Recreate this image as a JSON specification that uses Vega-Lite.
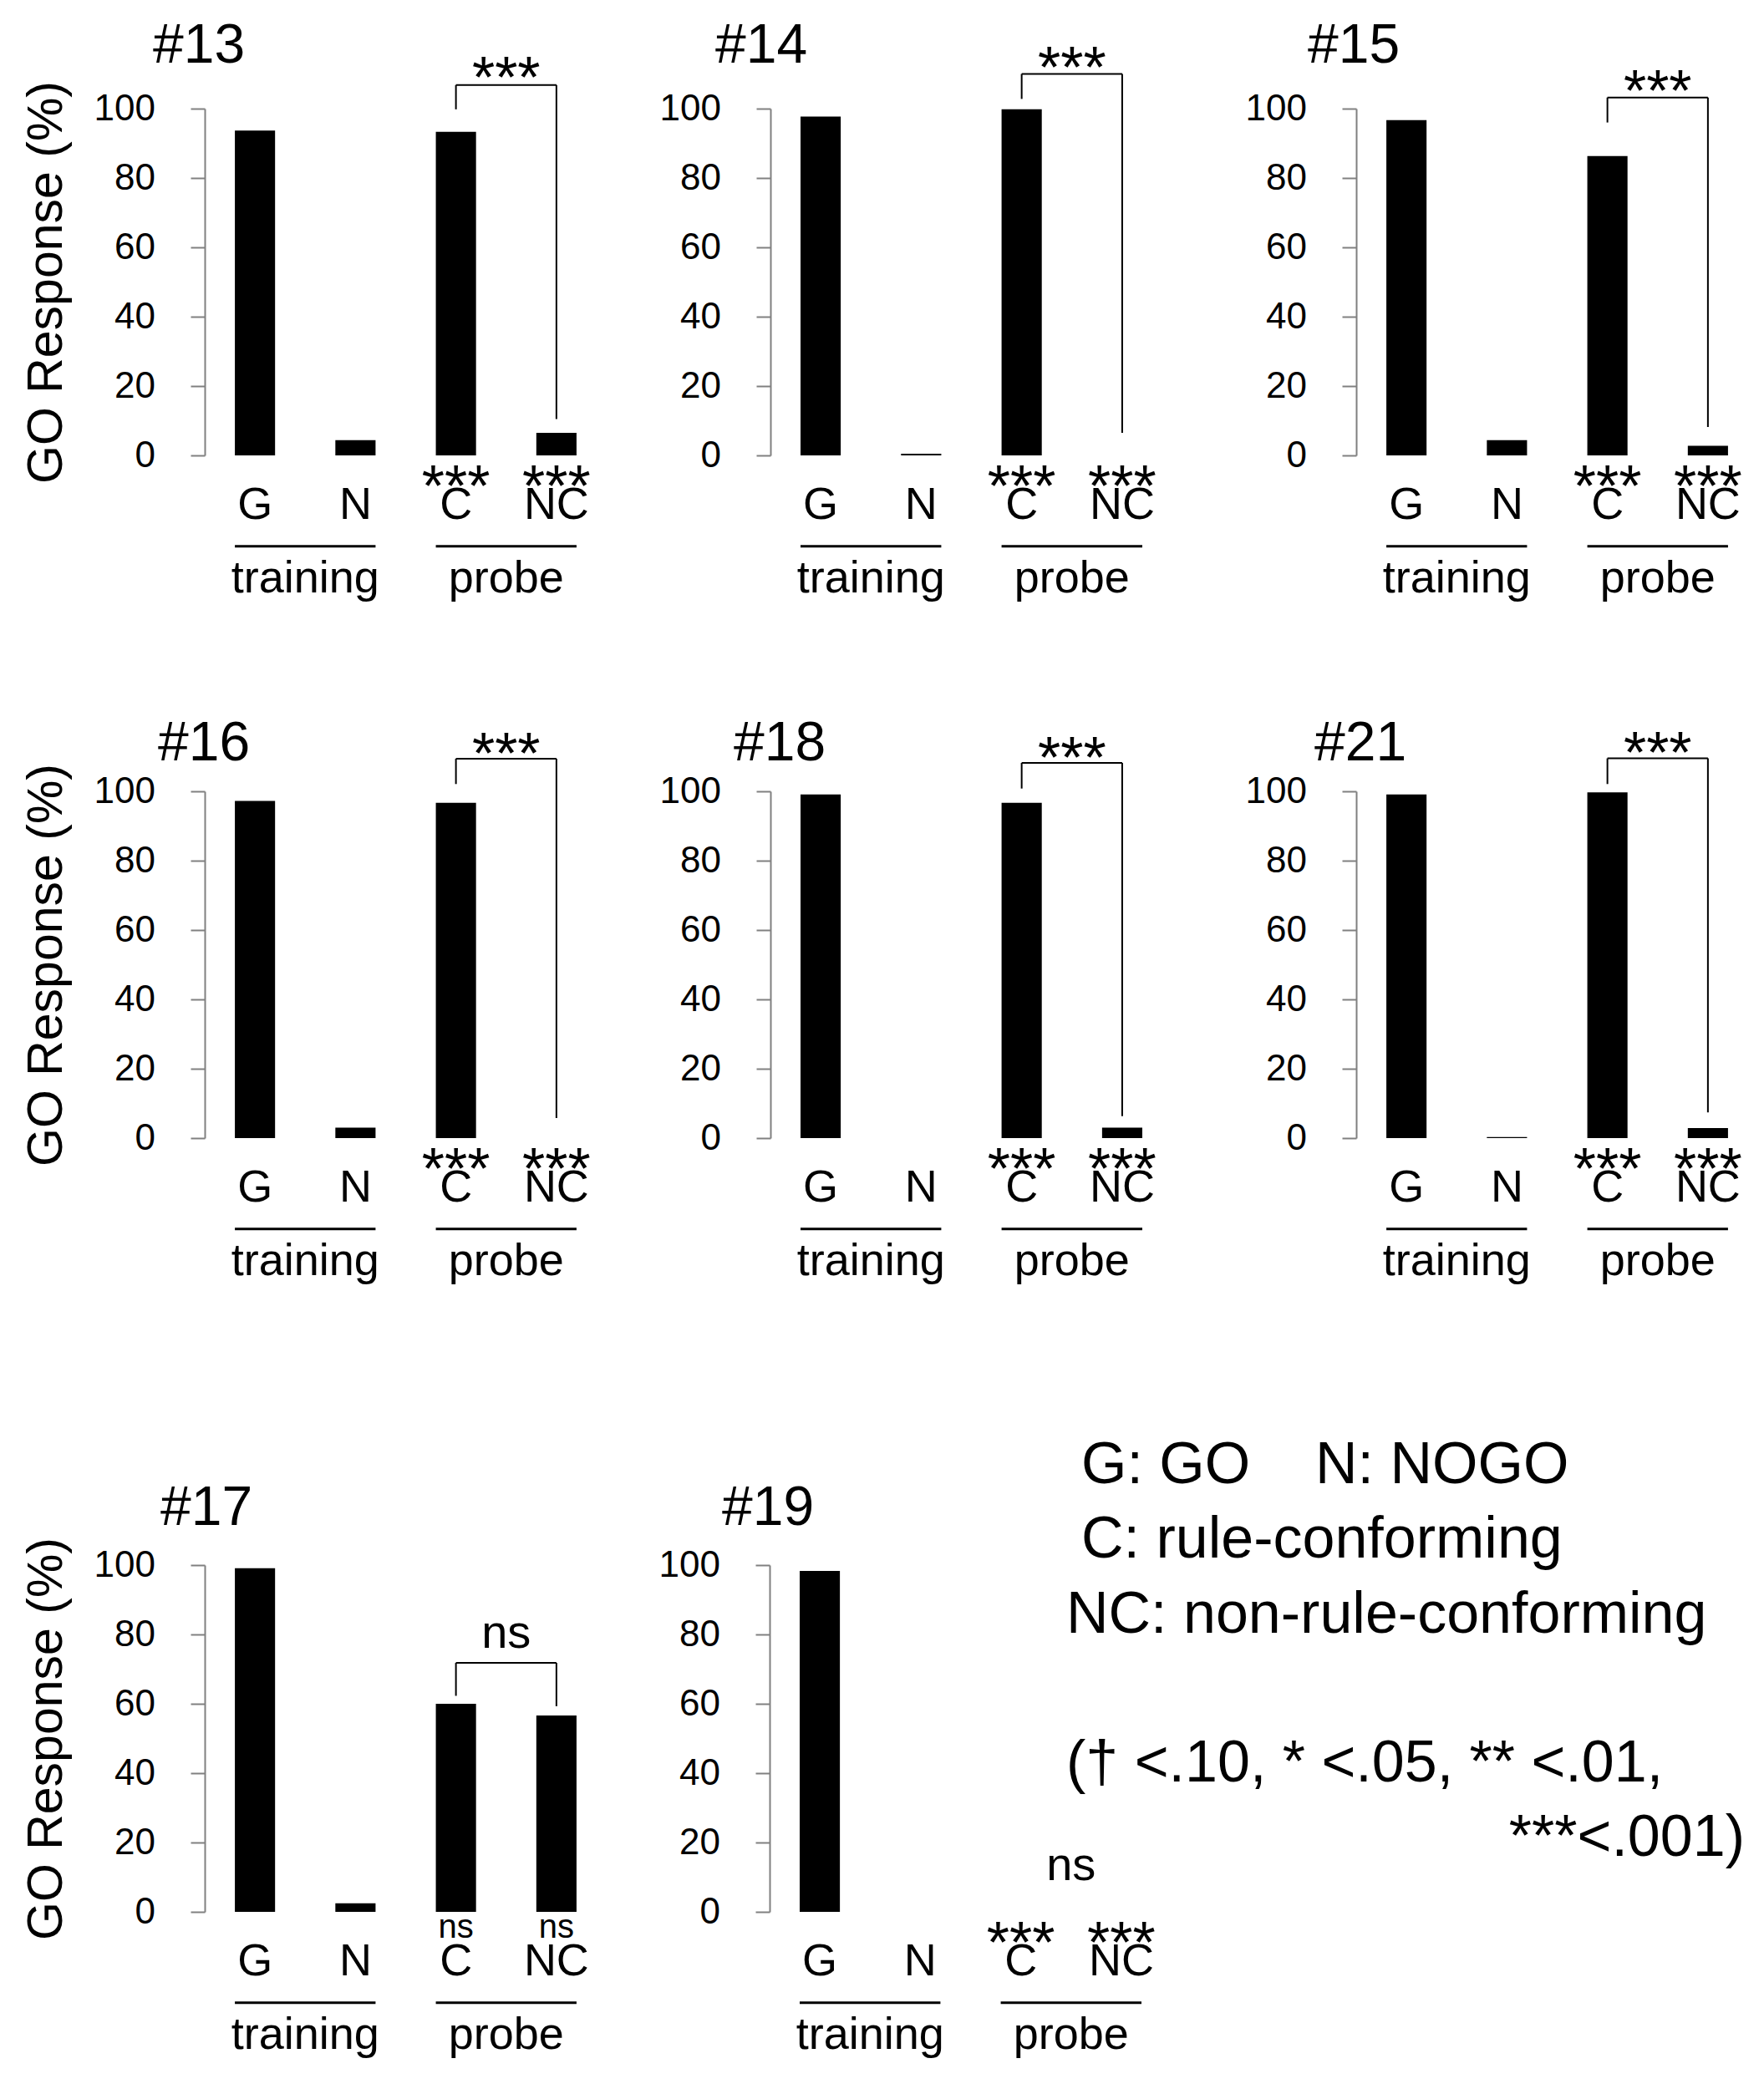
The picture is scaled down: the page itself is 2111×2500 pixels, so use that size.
{
  "$schema": "https://vega.github.io/schema/vega-lite/v6.json",
  "description": "GO response (%) per subject for training (G, N) and probe (C, NC) trials.",
  "background": "white",
  "padding": {"left": 26, "top": 21, "right": 5, "bottom": 5},
  "datasets": {
    "bars": [
      {"panel": "#13", "cond": "G", "value": 93.7, "sig": ""},
      {"panel": "#13", "cond": "N", "value": 4.4, "sig": ""},
      {"panel": "#13", "cond": "C", "value": 93.3, "sig": "***"},
      {"panel": "#13", "cond": "NC", "value": 6.5, "sig": "***"},
      {"panel": "#14", "cond": "G", "value": 97.7, "sig": ""},
      {"panel": "#14", "cond": "N", "value": 0.5, "sig": ""},
      {"panel": "#14", "cond": "C", "value": 99.8, "sig": "***"},
      {"panel": "#14", "cond": "NC", "value": 0, "sig": "***"},
      {"panel": "#15", "cond": "G", "value": 96.7, "sig": ""},
      {"panel": "#15", "cond": "N", "value": 4.4, "sig": ""},
      {"panel": "#15", "cond": "C", "value": 86.3, "sig": "***"},
      {"panel": "#15", "cond": "NC", "value": 2.8, "sig": "***"},
      {"panel": "#16", "cond": "G", "value": 97.2, "sig": ""},
      {"panel": "#16", "cond": "N", "value": 3.0, "sig": ""},
      {"panel": "#16", "cond": "C", "value": 96.7, "sig": "***"},
      {"panel": "#16", "cond": "NC", "value": 0, "sig": "***"},
      {"panel": "#18", "cond": "G", "value": 99.1, "sig": ""},
      {"panel": "#18", "cond": "N", "value": 0, "sig": ""},
      {"panel": "#18", "cond": "C", "value": 96.7, "sig": "***"},
      {"panel": "#18", "cond": "NC", "value": 3.0, "sig": "***"},
      {"panel": "#21", "cond": "G", "value": 99.1, "sig": ""},
      {"panel": "#21", "cond": "N", "value": 0.3, "sig": ""},
      {"panel": "#21", "cond": "C", "value": 99.7, "sig": "***"},
      {"panel": "#21", "cond": "NC", "value": 2.9, "sig": "***"},
      {"panel": "#17", "cond": "G", "value": 99.1, "sig": ""},
      {"panel": "#17", "cond": "N", "value": 2.5, "sig": ""},
      {"panel": "#17", "cond": "C", "value": 60.0, "sig": "ns"},
      {"panel": "#17", "cond": "NC", "value": 56.6, "sig": "ns"},
      {"panel": "#19", "cond": "G", "value": 98.3, "sig": ""},
      {"panel": "#19", "cond": "N", "value": 0, "sig": ""},
      {"panel": "#19", "cond": "C", "value": 0, "sig": "***"},
      {"panel": "#19", "cond": "NC", "value": 0, "sig": "***"}
    ],
    "compare": [
      {"panel": "#13", "from": "C", "to": "NC", "top": 106.8, "fromEnd": 99.8, "toEnd": 10.5, "label": "***", "labelY": 103.2},
      {"panel": "#14", "from": "C", "to": "NC", "top": 110.0, "fromEnd": 102.8, "toEnd": 6.5, "label": "***", "labelY": 106.1},
      {"panel": "#15", "from": "C", "to": "NC", "top": 103.2, "fromEnd": 96.0, "toEnd": 8.2, "label": "***", "labelY": 99.3},
      {"panel": "#16", "from": "C", "to": "NC", "top": 109.4, "fromEnd": 102.1, "toEnd": 5.8, "label": "***", "labelY": 105.0},
      {"panel": "#18", "from": "C", "to": "NC", "top": 108.2, "fromEnd": 100.8, "toEnd": 6.3, "label": "***", "labelY": 103.9},
      {"panel": "#21", "from": "C", "to": "NC", "top": 109.5, "fromEnd": 102.1, "toEnd": 7.4, "label": "***", "labelY": 105.2},
      {"panel": "#17", "from": "C", "to": "NC", "top": 71.8, "fromEnd": 62.3, "toEnd": 59.3, "label": "ns", "labelY": 76.1},
      {"panel": "#19", "from": "C", "to": "NC", "top": null, "fromEnd": null, "toEnd": null, "label": "ns", "labelY": 9.1}
    ],
    "groups": [
      {"label": "training", "from": "G", "to": "N"},
      {"label": "probe", "from": "C", "to": "NC"}
    ],
    "notes": [
      {"line": 1, "text": "G: GO\u00a0\u00a0\u00a0\u00a0N: NOGO"},
      {"line": 2, "text": "C: rule-conforming"},
      {"line": 3, "text": "NC: non-rule-conforming"},
      {"line": 5, "text": "(\u2020 <.10, * <.05, ** <.01,"},
      {"line": 6, "text": "***<.001)"}
    ]
  },
  "vconcat": [
    {
      "vconcat": [
        {
          "hconcat": [
            {
              "title": {"text": "#13", "offset": -28.4, "dx": -62},
              "width": 481, "height": 415,
              "layer": [
                {"data": {"name": "bars"}, "transform": [{"filter": "datum.panel === '#13'"}], "mark": "bar",
                 "encoding": {"x": {"field": "cond", "type": "nominal", "scale": {"domain": ["G", "N", "C", "NC"], "paddingInner": 0.6, "paddingOuter": 0.3}, "axis": {"title": null}},
                              "y": {"field": "value", "type": "quantitative", "scale": {"domain": [0, 100], "nice": false}, "axis": {"title": "GO Response (%)"}}}},
                {"data": {"name": "bars"}, "transform": [{"filter": "datum.panel === '#13' && datum.sig === '***'"}], "mark": {"type": "text", "fontSize": 70},
                 "encoding": {"x": {"field": "cond", "type": "nominal"}, "y": {"datum": -14.6}, "text": {"field": "sig"}}},
                {"data": {"name": "compare"}, "transform": [{"filter": "datum.panel === '#13'"}], "mark": "rule",
                 "encoding": {"x": {"field": "from", "type": "nominal"}, "y": {"field": "fromEnd", "type": "quantitative"}, "y2": {"field": "top"}}},
                {"data": {"name": "compare"}, "transform": [{"filter": "datum.panel === '#13'"}], "mark": "rule",
                 "encoding": {"x": {"field": "to", "type": "nominal"}, "y": {"field": "toEnd", "type": "quantitative"}, "y2": {"field": "top"}}},
                {"data": {"name": "compare"}, "transform": [{"filter": "datum.panel === '#13'"}], "mark": "rule",
                 "encoding": {"x": {"field": "from", "type": "nominal", "bandPosition": 0.5}, "x2": {"field": "to", "bandPosition": 0.5}, "y": {"field": "top", "type": "quantitative"}}},
                {"data": {"name": "compare"}, "transform": [{"filter": "datum.panel === '#13'"}], "mark": {"type": "text", "fontSize": 70},
                 "encoding": {"x": {"field": "from", "type": "nominal", "bandPosition": 1.75}, "y": {"field": "labelY", "type": "quantitative"}, "text": {"field": "label"}}},
                {"data": {"name": "groups"}, "mark": {"type": "rule", "strokeWidth": 3},
                 "encoding": {"x": {"field": "to", "type": "nominal", "bandPosition": 1}, "x2": {"field": "from", "bandPosition": 0}, "y": {"datum": -26.2}}},
                {"data": {"name": "groups"}, "mark": {"type": "text", "fontSize": 54},
                 "encoding": {"x": {"field": "from", "type": "nominal", "bandPosition": 1.75}, "y": {"datum": -39.6}, "text": {"field": "label"}}}
              ]
            },
            {
              "title": {"text": "#14", "offset": -40.2, "dx": -66},
              "width": 505, "height": 415,
              "layer": [
                {"data": {"name": "bars"}, "transform": [{"filter": "datum.panel === '#14'"}], "mark": "bar",
                 "encoding": {"x": {"field": "cond", "type": "nominal", "scale": {"domain": ["G", "N", "C", "NC"], "paddingInner": 0.6, "paddingOuter": 0.399, "align": 0.375}, "axis": {"title": null}},
                              "y": {"field": "value", "type": "quantitative", "scale": {"domain": [0, 100], "nice": false}, "axis": {"title": null}}}},
                {"data": {"name": "bars"}, "transform": [{"filter": "datum.panel === '#14' && datum.sig === '***'"}], "mark": {"type": "text", "fontSize": 70},
                 "encoding": {"x": {"field": "cond", "type": "nominal"}, "y": {"datum": -14.6}, "text": {"field": "sig"}}},
                {"data": {"name": "compare"}, "transform": [{"filter": "datum.panel === '#14'"}], "mark": "rule",
                 "encoding": {"x": {"field": "from", "type": "nominal"}, "y": {"field": "fromEnd", "type": "quantitative"}, "y2": {"field": "top"}}},
                {"data": {"name": "compare"}, "transform": [{"filter": "datum.panel === '#14'"}], "mark": "rule",
                 "encoding": {"x": {"field": "to", "type": "nominal"}, "y": {"field": "toEnd", "type": "quantitative"}, "y2": {"field": "top"}}},
                {"data": {"name": "compare"}, "transform": [{"filter": "datum.panel === '#14'"}], "mark": "rule",
                 "encoding": {"x": {"field": "from", "type": "nominal", "bandPosition": 0.5}, "x2": {"field": "to", "bandPosition": 0.5}, "y": {"field": "top", "type": "quantitative"}}},
                {"data": {"name": "compare"}, "transform": [{"filter": "datum.panel === '#14'"}], "mark": {"type": "text", "fontSize": 70},
                 "encoding": {"x": {"field": "from", "type": "nominal", "bandPosition": 1.75}, "y": {"field": "labelY", "type": "quantitative"}, "text": {"field": "label"}}},
                {"data": {"name": "groups"}, "mark": {"type": "rule", "strokeWidth": 3},
                 "encoding": {"x": {"field": "to", "type": "nominal", "bandPosition": 1}, "x2": {"field": "from", "bandPosition": 0}, "y": {"datum": -26.2}}},
                {"data": {"name": "groups"}, "mark": {"type": "text", "fontSize": 54},
                 "encoding": {"x": {"field": "from", "type": "nominal", "bandPosition": 1.75}, "y": {"datum": -39.6}, "text": {"field": "label"}}}
              ]
            },
            {
              "title": {"text": "#15", "offset": -11.9, "dx": -58},
              "width": 481, "height": 415,
              "layer": [
                {"data": {"name": "bars"}, "transform": [{"filter": "datum.panel === '#15'"}], "mark": "bar",
                 "encoding": {"x": {"field": "cond", "type": "nominal", "scale": {"domain": ["G", "N", "C", "NC"], "paddingInner": 0.6, "paddingOuter": 0.3}, "axis": {"title": null}},
                              "y": {"field": "value", "type": "quantitative", "scale": {"domain": [0, 100], "nice": false}, "axis": {"title": null}}}},
                {"data": {"name": "bars"}, "transform": [{"filter": "datum.panel === '#15' && datum.sig === '***'"}], "mark": {"type": "text", "fontSize": 70},
                 "encoding": {"x": {"field": "cond", "type": "nominal"}, "y": {"datum": -14.6}, "text": {"field": "sig"}}},
                {"data": {"name": "compare"}, "transform": [{"filter": "datum.panel === '#15'"}], "mark": "rule",
                 "encoding": {"x": {"field": "from", "type": "nominal"}, "y": {"field": "fromEnd", "type": "quantitative"}, "y2": {"field": "top"}}},
                {"data": {"name": "compare"}, "transform": [{"filter": "datum.panel === '#15'"}], "mark": "rule",
                 "encoding": {"x": {"field": "to", "type": "nominal"}, "y": {"field": "toEnd", "type": "quantitative"}, "y2": {"field": "top"}}},
                {"data": {"name": "compare"}, "transform": [{"filter": "datum.panel === '#15'"}], "mark": "rule",
                 "encoding": {"x": {"field": "from", "type": "nominal", "bandPosition": 0.5}, "x2": {"field": "to", "bandPosition": 0.5}, "y": {"field": "top", "type": "quantitative"}}},
                {"data": {"name": "compare"}, "transform": [{"filter": "datum.panel === '#15'"}], "mark": {"type": "text", "fontSize": 70},
                 "encoding": {"x": {"field": "from", "type": "nominal", "bandPosition": 1.75}, "y": {"field": "labelY", "type": "quantitative"}, "text": {"field": "label"}}},
                {"data": {"name": "groups"}, "mark": {"type": "rule", "strokeWidth": 3},
                 "encoding": {"x": {"field": "to", "type": "nominal", "bandPosition": 1}, "x2": {"field": "from", "bandPosition": 0}, "y": {"datum": -26.2}}},
                {"data": {"name": "groups"}, "mark": {"type": "text", "fontSize": 54},
                 "encoding": {"x": {"field": "from", "type": "nominal", "bandPosition": 1.75}, "y": {"datum": -39.6}, "text": {"field": "label"}}}
              ]
            }
          ]
        },
        {
          "hconcat": [
            {
              "title": {"text": "#16", "offset": -53.3, "dx": -56},
              "width": 481, "height": 415,
              "layer": [
                {"data": {"name": "bars"}, "transform": [{"filter": "datum.panel === '#16'"}], "mark": "bar",
                 "encoding": {"x": {"field": "cond", "type": "nominal", "scale": {"domain": ["G", "N", "C", "NC"], "paddingInner": 0.6, "paddingOuter": 0.3}, "axis": {"title": null}},
                              "y": {"field": "value", "type": "quantitative", "scale": {"domain": [0, 100], "nice": false}, "axis": {"title": "GO Response (%)"}}}},
                {"data": {"name": "bars"}, "transform": [{"filter": "datum.panel === '#16' && datum.sig === '***'"}], "mark": {"type": "text", "fontSize": 70},
                 "encoding": {"x": {"field": "cond", "type": "nominal"}, "y": {"datum": -14.6}, "text": {"field": "sig"}}},
                {"data": {"name": "compare"}, "transform": [{"filter": "datum.panel === '#16'"}], "mark": "rule",
                 "encoding": {"x": {"field": "from", "type": "nominal"}, "y": {"field": "fromEnd", "type": "quantitative"}, "y2": {"field": "top"}}},
                {"data": {"name": "compare"}, "transform": [{"filter": "datum.panel === '#16'"}], "mark": "rule",
                 "encoding": {"x": {"field": "to", "type": "nominal"}, "y": {"field": "toEnd", "type": "quantitative"}, "y2": {"field": "top"}}},
                {"data": {"name": "compare"}, "transform": [{"filter": "datum.panel === '#16'"}], "mark": "rule",
                 "encoding": {"x": {"field": "from", "type": "nominal", "bandPosition": 0.5}, "x2": {"field": "to", "bandPosition": 0.5}, "y": {"field": "top", "type": "quantitative"}}},
                {"data": {"name": "compare"}, "transform": [{"filter": "datum.panel === '#16'"}], "mark": {"type": "text", "fontSize": 70},
                 "encoding": {"x": {"field": "from", "type": "nominal", "bandPosition": 1.75}, "y": {"field": "labelY", "type": "quantitative"}, "text": {"field": "label"}}},
                {"data": {"name": "groups"}, "mark": {"type": "rule", "strokeWidth": 3},
                 "encoding": {"x": {"field": "to", "type": "nominal", "bandPosition": 1}, "x2": {"field": "from", "bandPosition": 0}, "y": {"datum": -26.2}}},
                {"data": {"name": "groups"}, "mark": {"type": "text", "fontSize": 54},
                 "encoding": {"x": {"field": "from", "type": "nominal", "bandPosition": 1.75}, "y": {"datum": -39.6}, "text": {"field": "label"}}}
              ]
            },
            {
              "title": {"text": "#18", "offset": -48.7, "dx": -44},
              "width": 505, "height": 415,
              "layer": [
                {"data": {"name": "bars"}, "transform": [{"filter": "datum.panel === '#18'"}], "mark": "bar",
                 "encoding": {"x": {"field": "cond", "type": "nominal", "scale": {"domain": ["G", "N", "C", "NC"], "paddingInner": 0.6, "paddingOuter": 0.399, "align": 0.375}, "axis": {"title": null}},
                              "y": {"field": "value", "type": "quantitative", "scale": {"domain": [0, 100], "nice": false}, "axis": {"title": null}}}},
                {"data": {"name": "bars"}, "transform": [{"filter": "datum.panel === '#18' && datum.sig === '***'"}], "mark": {"type": "text", "fontSize": 70},
                 "encoding": {"x": {"field": "cond", "type": "nominal"}, "y": {"datum": -14.6}, "text": {"field": "sig"}}},
                {"data": {"name": "compare"}, "transform": [{"filter": "datum.panel === '#18'"}], "mark": "rule",
                 "encoding": {"x": {"field": "from", "type": "nominal"}, "y": {"field": "fromEnd", "type": "quantitative"}, "y2": {"field": "top"}}},
                {"data": {"name": "compare"}, "transform": [{"filter": "datum.panel === '#18'"}], "mark": "rule",
                 "encoding": {"x": {"field": "to", "type": "nominal"}, "y": {"field": "toEnd", "type": "quantitative"}, "y2": {"field": "top"}}},
                {"data": {"name": "compare"}, "transform": [{"filter": "datum.panel === '#18'"}], "mark": "rule",
                 "encoding": {"x": {"field": "from", "type": "nominal", "bandPosition": 0.5}, "x2": {"field": "to", "bandPosition": 0.5}, "y": {"field": "top", "type": "quantitative"}}},
                {"data": {"name": "compare"}, "transform": [{"filter": "datum.panel === '#18'"}], "mark": {"type": "text", "fontSize": 70},
                 "encoding": {"x": {"field": "from", "type": "nominal", "bandPosition": 1.75}, "y": {"field": "labelY", "type": "quantitative"}, "text": {"field": "label"}}},
                {"data": {"name": "groups"}, "mark": {"type": "rule", "strokeWidth": 3},
                 "encoding": {"x": {"field": "to", "type": "nominal", "bandPosition": 1}, "x2": {"field": "from", "bandPosition": 0}, "y": {"datum": -26.2}}},
                {"data": {"name": "groups"}, "mark": {"type": "text", "fontSize": 54},
                 "encoding": {"x": {"field": "from", "type": "nominal", "bandPosition": 1.75}, "y": {"datum": -39.6}, "text": {"field": "label"}}}
              ]
            },
            {
              "title": {"text": "#21", "offset": -54.2, "dx": -50},
              "width": 481, "height": 415,
              "layer": [
                {"data": {"name": "bars"}, "transform": [{"filter": "datum.panel === '#21'"}], "mark": "bar",
                 "encoding": {"x": {"field": "cond", "type": "nominal", "scale": {"domain": ["G", "N", "C", "NC"], "paddingInner": 0.6, "paddingOuter": 0.3}, "axis": {"title": null}},
                              "y": {"field": "value", "type": "quantitative", "scale": {"domain": [0, 100], "nice": false}, "axis": {"title": null}}}},
                {"data": {"name": "bars"}, "transform": [{"filter": "datum.panel === '#21' && datum.sig === '***'"}], "mark": {"type": "text", "fontSize": 70},
                 "encoding": {"x": {"field": "cond", "type": "nominal"}, "y": {"datum": -14.6}, "text": {"field": "sig"}}},
                {"data": {"name": "compare"}, "transform": [{"filter": "datum.panel === '#21'"}], "mark": "rule",
                 "encoding": {"x": {"field": "from", "type": "nominal"}, "y": {"field": "fromEnd", "type": "quantitative"}, "y2": {"field": "top"}}},
                {"data": {"name": "compare"}, "transform": [{"filter": "datum.panel === '#21'"}], "mark": "rule",
                 "encoding": {"x": {"field": "to", "type": "nominal"}, "y": {"field": "toEnd", "type": "quantitative"}, "y2": {"field": "top"}}},
                {"data": {"name": "compare"}, "transform": [{"filter": "datum.panel === '#21'"}], "mark": "rule",
                 "encoding": {"x": {"field": "from", "type": "nominal", "bandPosition": 0.5}, "x2": {"field": "to", "bandPosition": 0.5}, "y": {"field": "top", "type": "quantitative"}}},
                {"data": {"name": "compare"}, "transform": [{"filter": "datum.panel === '#21'"}], "mark": {"type": "text", "fontSize": 70},
                 "encoding": {"x": {"field": "from", "type": "nominal", "bandPosition": 1.75}, "y": {"field": "labelY", "type": "quantitative"}, "text": {"field": "label"}}},
                {"data": {"name": "groups"}, "mark": {"type": "rule", "strokeWidth": 3},
                 "encoding": {"x": {"field": "to", "type": "nominal", "bandPosition": 1}, "x2": {"field": "from", "bandPosition": 0}, "y": {"datum": -26.2}}},
                {"data": {"name": "groups"}, "mark": {"type": "text", "fontSize": 54},
                 "encoding": {"x": {"field": "from", "type": "nominal", "bandPosition": 1.75}, "y": {"datum": -39.6}, "text": {"field": "label"}}}
              ]
            }
          ]
        }
      ],
      "spacing": 135
    },
    {
      "hconcat": [
        {
          "title": {"text": "#17", "offset": 0.2, "dx": -53},
          "width": 481, "height": 415,
          "layer": [
            {"data": {"name": "bars"}, "transform": [{"filter": "datum.panel === '#17'"}], "mark": "bar",
             "encoding": {"x": {"field": "cond", "type": "nominal", "scale": {"domain": ["G", "N", "C", "NC"], "paddingInner": 0.6, "paddingOuter": 0.3}, "axis": {"title": null}},
                          "y": {"field": "value", "type": "quantitative", "scale": {"domain": [0, 100], "nice": false}, "axis": {"title": "GO Response (%)"}}}},
            {"data": {"name": "bars"}, "transform": [{"filter": "datum.panel === '#17' && datum.sig === 'ns'"}], "mark": {"type": "text", "fontSize": 40},
             "encoding": {"x": {"field": "cond", "type": "nominal"}, "y": {"datum": -7.5}, "text": {"field": "sig"}}},
            {"data": {"name": "compare"}, "transform": [{"filter": "datum.panel === '#17'"}], "mark": "rule",
             "encoding": {"x": {"field": "from", "type": "nominal"}, "y": {"field": "fromEnd", "type": "quantitative"}, "y2": {"field": "top"}}},
            {"data": {"name": "compare"}, "transform": [{"filter": "datum.panel === '#17'"}], "mark": "rule",
             "encoding": {"x": {"field": "to", "type": "nominal"}, "y": {"field": "toEnd", "type": "quantitative"}, "y2": {"field": "top"}}},
            {"data": {"name": "compare"}, "transform": [{"filter": "datum.panel === '#17'"}], "mark": "rule",
             "encoding": {"x": {"field": "from", "type": "nominal", "bandPosition": 0.5}, "x2": {"field": "to", "bandPosition": 0.5}, "y": {"field": "top", "type": "quantitative"}}},
            {"data": {"name": "compare"}, "transform": [{"filter": "datum.panel === '#17'"}], "mark": {"type": "text", "fontSize": 56},
             "encoding": {"x": {"field": "from", "type": "nominal", "bandPosition": 1.75}, "y": {"field": "labelY", "type": "quantitative"}, "text": {"field": "label"}}},
            {"data": {"name": "groups"}, "mark": {"type": "rule", "strokeWidth": 3},
             "encoding": {"x": {"field": "to", "type": "nominal", "bandPosition": 1}, "x2": {"field": "from", "bandPosition": 0}, "y": {"datum": -26.2}}},
            {"data": {"name": "groups"}, "mark": {"type": "text", "fontSize": 54},
             "encoding": {"x": {"field": "from", "type": "nominal", "bandPosition": 1.75}, "y": {"datum": -39.6}, "text": {"field": "label"}}}
          ]
        },
        {
          "title": {"text": "#19", "offset": 11.7, "dx": -57},
          "width": 505, "height": 415,
          "layer": [
            {"data": {"name": "bars"}, "transform": [{"filter": "datum.panel === '#19'"}], "mark": "bar",
             "encoding": {"x": {"field": "cond", "type": "nominal", "scale": {"domain": ["G", "N", "C", "NC"], "paddingInner": 0.6, "paddingOuter": 0.399, "align": 0.375}, "axis": {"title": null}},
                          "y": {"field": "value", "type": "quantitative", "scale": {"domain": [0, 100], "nice": false}, "axis": {"title": null}}}},
            {"data": {"name": "bars"}, "transform": [{"filter": "datum.panel === '#19' && datum.sig === '***'"}], "mark": {"type": "text", "fontSize": 70},
             "encoding": {"x": {"field": "cond", "type": "nominal"}, "y": {"datum": -14.6}, "text": {"field": "sig"}}},
            {"data": {"name": "compare"}, "transform": [{"filter": "datum.panel === '#19'"}], "mark": {"type": "text", "fontSize": 56},
             "encoding": {"x": {"field": "from", "type": "nominal", "bandPosition": 1.75}, "y": {"field": "labelY", "type": "quantitative"}, "text": {"field": "label"}}},
            {"data": {"name": "groups"}, "mark": {"type": "rule", "strokeWidth": 3},
             "encoding": {"x": {"field": "to", "type": "nominal", "bandPosition": 1}, "x2": {"field": "from", "bandPosition": 0}, "y": {"datum": -26.2}}},
            {"data": {"name": "groups"}, "mark": {"type": "text", "fontSize": 54},
             "encoding": {"x": {"field": "from", "type": "nominal", "bandPosition": 1.75}, "y": {"datum": -39.6}, "text": {"field": "label"}}}
          ]
        },
        {
          "width": 481, "height": 415,
          "data": {"name": "notes"},
          "encoding": {
            "x": {"datum": 0, "type": "quantitative", "scale": {"domain": [0.4249, 1.0173], "nice": false, "zero": false}, "axis": null},
            "y": {"field": "line", "type": "quantitative", "scale": {"domain": [2.098, 6.747], "nice": false, "zero": false, "reverse": true}, "axis": null},
            "text": {"field": "text"}
          },
          "layer": [
            {"transform": [{"filter": "datum.line <= 2"}], "mark": {"type": "text", "align": "left", "fontSize": 70, "dx": 18}},
            {"transform": [{"filter": "datum.line === 3 || datum.line === 5"}], "mark": {"type": "text", "align": "left", "fontSize": 70}},
            {"transform": [{"filter": "datum.line === 6"}], "mark": {"type": "text", "align": "right", "fontSize": 70},
             "encoding": {"x": {"datum": 1, "type": "quantitative"}}}
          ]
        }
      ],
      "spacing": 195,
      "bounds": "flush"
    }
  ],
  "spacing": 180,
  "config": {
    "font": "Liberation Sans",
    "view": {"stroke": null},
    "concat": {"spacing": 62},
    "bar": {"color": "#000000"},
    "rule": {"color": "#000000", "strokeWidth": 2},
    "text": {"color": "#000000", "baseline": "alphabetic", "align": "center", "fontSize": 70},
    "title": {"fontSize": 66, "fontWeight": "normal", "anchor": "start", "frame": "group", "baseline": "top", "color": "#000000"},
    "axisX": {"domain": false, "ticks": false, "tickSize": 0, "labelPadding": 32.6, "labelFontSize": 54, "labelColor": "#000000", "labelAngle": 0, "grid": false},
    "axisY": {"domainColor": "#808080", "domainWidth": 2, "tickColor": "#808080", "tickWidth": 2, "tickSize": 17, "tickCount": 6, "labelPadding": 42.6, "labelFontSize": 44, "labelColor": "#000000", "titleFontSize": 59, "titleFontWeight": "normal", "titleColor": "#000000", "titlePadding": 26, "grid": false}
  }
}
